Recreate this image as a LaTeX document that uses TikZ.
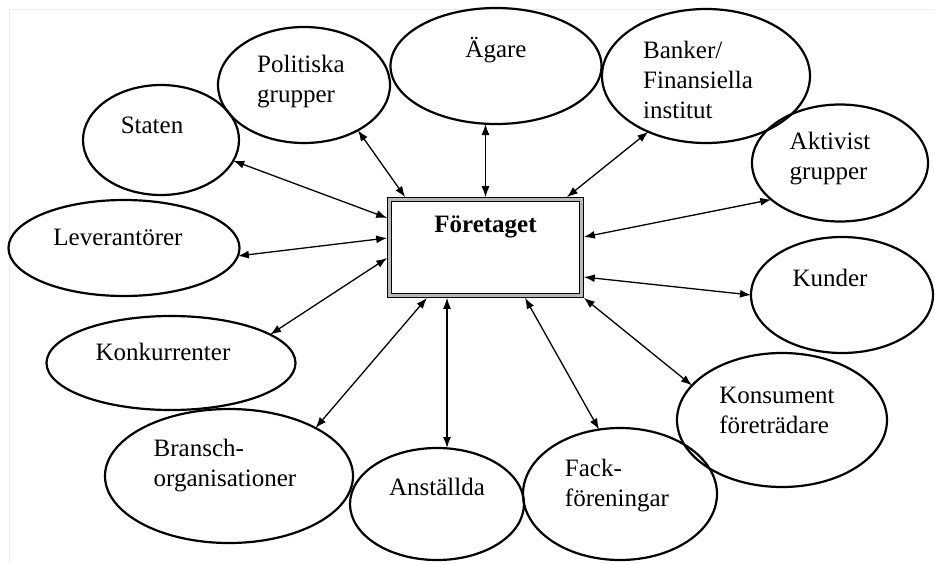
\documentclass[tikz,border=0pt]{standalone}
\usepackage{fontspec}
\setmainfont{Liberation Serif}
\usepackage{tikz}
\usetikzlibrary{shapes.geometric, arrows.meta}
\definecolor{framegray}{HTML}{ECECEC}
\tikzset{
  snode/.style = {ellipse, draw=black, line width=2.2pt, inner sep=0pt, outer sep=0pt},
  stext/.style = {align=left, inner sep=0pt, font=\fontsize{25}{30}\selectfont},
  fnode/.style = {rectangle, draw=black, double=gray!55, double distance=2.4pt, line width=1.1pt, outer sep=2.3pt, minimum width=192pt, minimum height=96pt},
  link/.style = {{Latex[length=11pt,width=8pt]}-{Latex[length=11pt,width=8pt]}, line width=1.3pt},
}

\begin{document}
\begin{tikzpicture}[x=1pt, y=-1pt]
\useasboundingbox (0,0) rectangle (935,563);
\draw [framegray, line width=1pt] (9,563) -- (9,9) -- (935,9);

\node [fnode, label={[stext, font=\bfseries\fontsize{25}{30}\selectfont, yshift=20.5]center:Företaget}] (firm) at (485.5,247.5) {};

\node [snode, minimum width=156, minimum height=110, label={[stext, xshift=-9, yshift=15]center:Staten}] (staten) at (161,140) {};
\node [snode, minimum width=172, minimum height=116, label={[stext, xshift=-3, yshift=3]center:{Politiska\\grupper}}] (politiska) at (304,85) {};
\node [snode, minimum width=211, minimum height=116, label={[stext, yshift=16]center:Ägare}] (agare) at (496,66) {};
\node [snode, minimum width=208, minimum height=134, label={[stext, xshift=-8, yshift=-4]center:{Banker/\\Finansiella\\institut}}] (banker) at (706,76) {};
\node [snode, minimum width=176, minimum height=117, label={[stext, xshift=-10, yshift=4]center:{Aktivist\\grupper}}] (aktivist) at (840,163) {};
\node [snode, minimum width=231, minimum height=96, label={[stext, xshift=-6, yshift=11]center:Leverantörer}] (lev) at (124,248) {};
\node [snode, minimum width=249, minimum height=94, label={[stext, xshift=-8, yshift=11]center:Konkurrenter}] (konk) at (171,363) {};
\node [snode, minimum width=182, minimum height=116, label={[stext, xshift=-12, yshift=17]center:Kunder}] (kunder) at (842,295) {};
\node [snode, minimum width=210, minimum height=134, label={[stext, xshift=-5, yshift=10]center:{Konsument\\företrädare}}] (konsument) at (782,420) {};
\node [snode, minimum width=248, minimum height=134, label={[stext, xshift=-4, yshift=10]center:{Bransch-\\organisationer}}] (bransch) at (229,476) {};
\node [snode, minimum width=174, minimum height=112, label={[stext, yshift=17]center:Anställda}] (anstallda) at (437,504) {};
\node [snode, minimum width=194, minimum height=132, label={[stext, xshift=-3, yshift=8]center:{Fack-\\föreningar}}] (fack) at (620,494) {};

\coordinate (anst top) at ([xshift=-38.5]firm.south);

\draw [link] ([yshift=29.5]firm.west) -- (staten.-16);
\draw [link] ([yshift=9.5]firm.west) -- (lev.-4);
\draw [link] ([yshift=-10.5]firm.west) -- (konk.16);
\draw [link] ([xshift=18]firm.north west) -- (politiska.-40);
\draw [link] (firm.north) -- (firm.north |- agare.south);
\draw [link] ([xshift=-17]firm.north east) -- (banker.-136);
\draw [link] ([yshift=10.5]firm.east) -- (aktivist.-152);
\draw [link] ([yshift=-29.5]firm.east) -- (kunder.west);
\draw [link] (firm.south east) -- (konsument.159);
\draw [link] ([xshift=39.5]firm.south) -- (fack.108);
\draw [link] (anst top) -- (anst top |- anstallda.north);
\draw [link] ([xshift=-58.5]firm.south) -- (bransch.29);
\end{tikzpicture}
\end{document}
